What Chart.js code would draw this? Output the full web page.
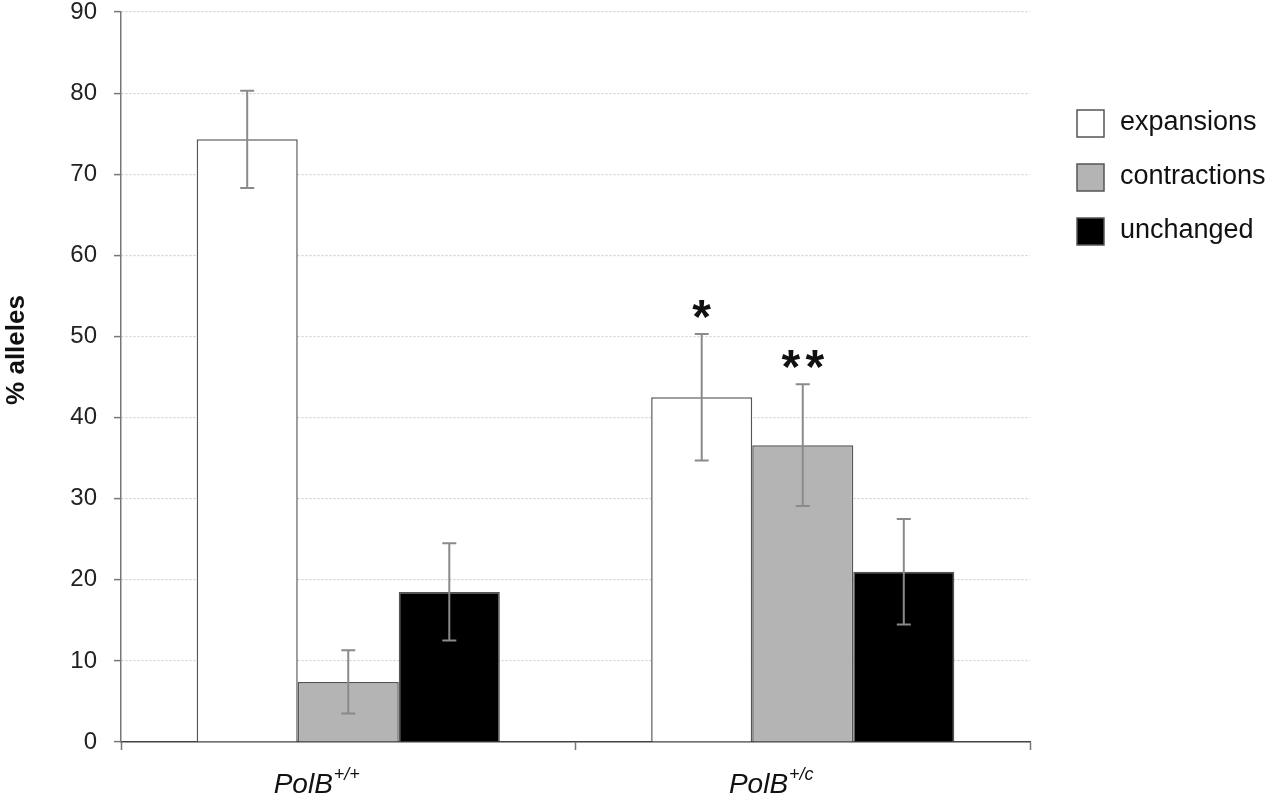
<!DOCTYPE html>
<html>
<head>
<meta charset="utf-8">
<script src="https://cdn.jsdelivr.net/npm/chart.js@4"></script>
<style>
  html, body { margin: 0; padding: 0; background: #fff; }
  #wrap { width: 1279px; height: 800px; }
</style>
</head>
<body>
<div id="wrap"><canvas id="myChart" width="1279" height="800"></canvas></div>
<script>
// data
const categories = ["PolB+/+", "PolB+/c"];
const labelBase = ["PolB", "PolB"];
const labelSup = ["+/+", "+/c"];

const expansions = [74.3, 42.5];
const expansionsErr = [6.0, 7.8];
const contractions = [7.4, 36.6];
const contractionsErr = [3.9, 7.5];
const unchanged = [18.5, 21.0];
const unchangedErr = [6.0, 6.5];

// significance marks above error bars
const expansionsSig = ["", "*"];
const contractionsSig = ["", "**"];
const unchangedSig = ["", ""];

const yTicks = [0, 10, 20, 30, 40, 50, 60, 70, 80, 90];

const FONT = "'Liberation Sans', Arial, Helvetica, sans-serif";

const errorBars = {
  id: "errorBars",
  afterDatasetsDraw(chart) {
    const ctx = chart.ctx;
    const y = chart.scales.y;
    ctx.save();
    chart.data.datasets.forEach((ds, di) => {
      const meta = chart.getDatasetMeta(di);
      meta.data.forEach((bar, i) => {
        const v = ds.data[i], e = ds.err[i];
        const yTop = y.getPixelForValue(v + e);
        const yBot = y.getPixelForValue(v - e);
        ctx.strokeStyle = "#8a8a8a";
        ctx.lineWidth = 2;
        ctx.beginPath();
        ctx.moveTo(bar.x, yTop);
        ctx.lineTo(bar.x, yBot);
        ctx.moveTo(bar.x - 7, yTop);
        ctx.lineTo(bar.x + 7, yTop);
        ctx.moveTo(bar.x - 7, yBot);
        ctx.lineTo(bar.x + 7, yBot);
        ctx.stroke();
        const s = ds.sig[i];
        if (s) {
          ctx.fillStyle = "#111";
          ctx.font = "bold 48px " + FONT;
          ctx.textAlign = "center";
          ctx.textBaseline = "alphabetic";
          const step = 24;
          for (let k = 0; k < s.length; k++) {
            const sx = bar.x + (k - (s.length - 1) / 2) * step;
            ctx.fillText(s[k], sx, yTop - 1);
          }
        }
      });
    });
    ctx.restore();
  }
};

const extras = {
  id: "extras",
  afterDraw(chart) {
    const ctx = chart.ctx;
    const x = chart.scales.x;
    ctx.save();
    // category labels with superscripts
    categories.forEach((c, i) => {
      const cx = x.getPixelForValue(i) - 32;
      ctx.font = "italic 28px " + FONT;
      const w1 = ctx.measureText(labelBase[i]).width;
      ctx.font = "italic 18px " + FONT;
      const w2 = ctx.measureText(labelSup[i]).width;
      const start = cx - (w1 + w2) / 2;
      ctx.fillStyle = "#111";
      ctx.textAlign = "left";
      ctx.textBaseline = "alphabetic";
      ctx.font = "italic 28px " + FONT;
      ctx.fillText(labelBase[i], start, 793);
      ctx.font = "italic 18px " + FONT;
      ctx.fillText(labelSup[i], start + w1 + 1, 780);
    });
    // y title
    ctx.translate(17, 350);
    ctx.rotate(-Math.PI / 2);
    ctx.font = "bold 26px " + FONT;
    ctx.textAlign = "center";
    ctx.textBaseline = "middle";
    ctx.fillStyle = "#111";
    ctx.fillText("% alleles", 0, 0);
    ctx.restore();

    // legend
    ctx.save();
    chart.data.datasets.forEach((ds, di) => {
      const cy = 123 + di * 54;
      ctx.fillStyle = ds.backgroundColor;
      ctx.fillRect(1077, cy - 13, 27, 27);
      ctx.strokeStyle = "#555";
      ctx.lineWidth = 1.5;
      ctx.strokeRect(1077, cy - 13, 27, 27);
      ctx.fillStyle = "#111";
      ctx.font = "27px " + FONT;
      ctx.textAlign = "left";
      ctx.textBaseline = "middle";
      ctx.fillText(ds.label, 1120, cy);
    });
    ctx.restore();
  }
};

const ctx = document.querySelector("#myChart").getContext("2d");

const chart = new Chart(ctx, {
  type: "bar",
  data: {
    labels: categories,
    datasets: [
      { label: "expansions", data: expansions, err: expansionsErr, sig: expansionsSig,
        backgroundColor: "#ffffff", borderColor: "#555", borderWidth: 1.5 },
      { label: "contractions", data: contractions, err: contractionsErr, sig: contractionsSig,
        backgroundColor: "#b4b4b4", borderColor: "#555", borderWidth: 1.5 },
      { label: "unchanged", data: unchanged, err: unchangedErr, sig: unchangedSig,
        backgroundColor: "#000000", borderColor: "#555", borderWidth: 1.5 }
    ]
  },
  options: {
    responsive: false,
    animation: false,
    layout: { padding: { left: 0, right: 249, top: 12, bottom: 0 } },
    plugins: { legend: { display: false }, tooltip: { enabled: false } },
    datasets: { bar: { categoryPercentage: 0.667, barPercentage: 1.0 } },
    scales: {
      x: {
        afterFit(scale) { scale.height = 58; },
        ticks: { display: false },
        grid: { offset: true, drawOnChartArea: false, tickLength: 8, tickColor: "#777", tickWidth: 1.5 },
        border: { color: "#444", width: 1.5 }
      },
      y: {
        min: 0,
        max: 90,
        afterFit(scale) {
          scale.width = 121;
          scale.paddingTop = 12;
          scale.paddingBottom = 0;
        },
        afterBuildTicks(scale) { scale.ticks = yTicks.map(v => ({ value: v })); },
        ticks: { font: { family: FONT, size: 24 }, color: "#222", padding: 17 },
        grid: { color: "#cfcfcf", lineWidth: 1.2, tickLength: 7, tickColor: "#777", tickWidth: 1.5 },
        border: { color: "#777", width: 1.5, dash: [2, 2] }
      }
    }
  },
  plugins: [errorBars, extras]
});
</script>
</body>
</html>
